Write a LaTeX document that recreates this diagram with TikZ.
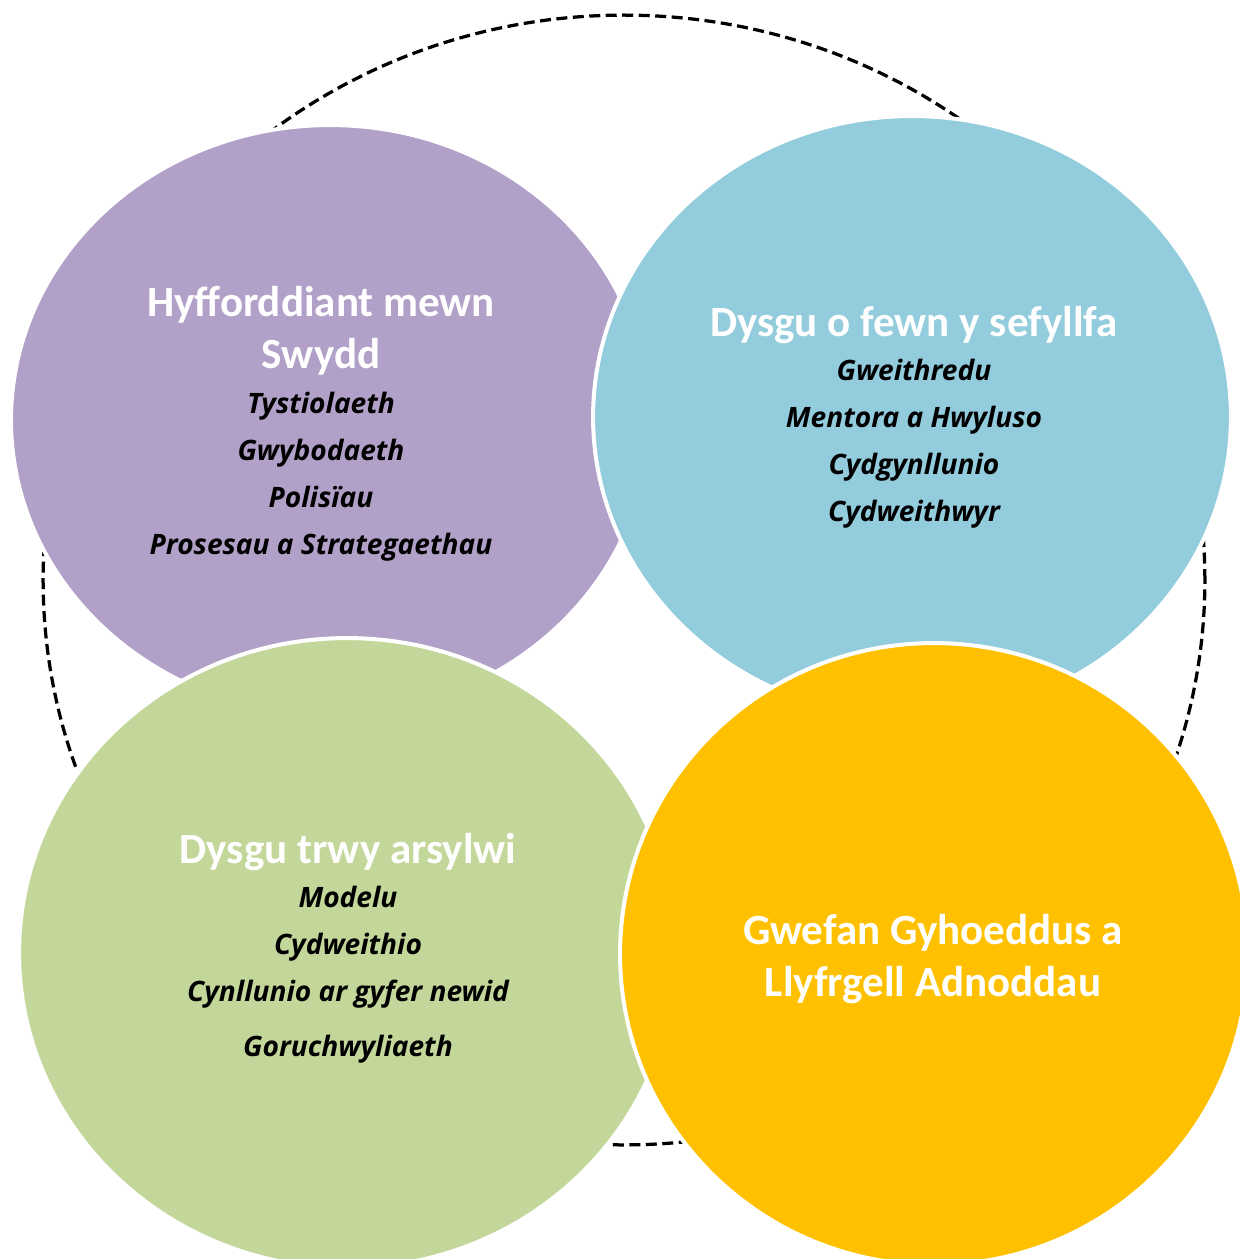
\documentclass[tikz,border=0pt]{standalone}
\usepackage{fontspec}
\setmainfont{Carlito}
\newfontfamily\handfont{Open Sans}
\usepackage{tikz}
\usetikzlibrary{shapes.geometric,positioning}

\definecolor{purp}{HTML}{B1A0C7}
\definecolor{skyb}{HTML}{93CDDD}
\definecolor{leaf}{HTML}{C4D79B}
\definecolor{gold}{HTML}{FFC000}

\newcommand{\headfont}{\fontsize{24.5}{29.6}\selectfont\bfseries}
\newcommand{\listfont}{\handfont\itshape\bfseries\fontsize{16}{26.7}\selectfont}

\tikzset{
  bubble/.style={ellipse, draw=white, line width=0.08cm, inner sep=0pt},
  ring/.style={ellipse, draw=black, line width=0.065cm, dash pattern=on 0.22cm off 0.11cm, inner sep=0pt},
  head/.style={font=\headfont, text=white, align=center, inner sep=0pt},
  list/.style={font=\listfont, text=black, align=center, inner sep=0pt}
}

\begin{document}
\begin{tikzpicture}[x=0.02cm, y=-0.02cm]
\useasboundingbox (0,0) rectangle (1240,1259);

% Outer dashed ring
\node (frame) [ring, minimum width=23.24cm, minimum height=22.6cm] at (624,580) {};

% Circles
\node (train) [bubble, fill=purp, minimum width=12.76cm, minimum height=11.8cm] at (330,420) {};
\node (inside) [bubble, fill=skyb, minimum width=12.76cm, minimum height=12.04cm] at (912,417) {};
\node (watch) [bubble, fill=leaf, minimum width=13.12cm, minimum height=12.6cm] at (347,953) {};
\node (web) [bubble, fill=gold, minimum width=12.56cm, minimum height=12.44cm] at (934,954) {};

% Texts
\node (trainhead) [head] at (321,331) {Hyfforddiant mewn\\Swydd};
\node (trainlist) [list] at (321,477) {Tystiolaeth\\Gwybodaeth\\Polisïau\\Prosesau a Strategaethau};

\node (insidehead) [head] at (914,325) {Dysgu o fewn y sefyllfa};
\node (insidelist) [list] at (914,444) {Gweithredu\\Mentora a Hwyluso\\Cydgynllunio\\Cydweithwyr};

\node (watchhead) [head] at (348,852) {Dysgu trwy arsylwi};
\node (watchlist) [list] at (348,975) {Modelu\\Cydweithio\\Cynllunio ar gyfer newid\\[4.5pt]Goruchwyliaeth};

\node (webhead) [head] at (933,959) {Gwefan Gyhoeddus a\\Llyfrgell Adnoddau};

\end{tikzpicture}
\end{document}
